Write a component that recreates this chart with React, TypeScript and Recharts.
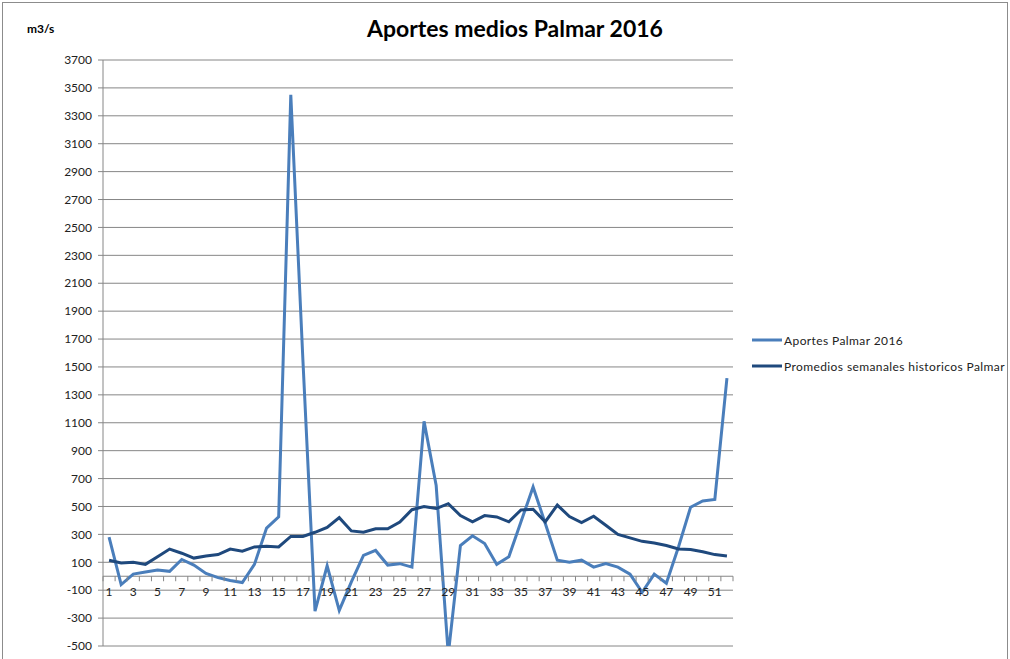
import { LineChart, Line, XAxis, YAxis, CartesianGrid, ReferenceLine, Legend } from "recharts"

// weekly inflows (m3/s)
const weeks = [
  1, 2, 3, 4, 5, 6, 7, 8, 9, 10, 11, 12, 13, 14, 15, 16, 17, 18, 19, 20, 21, 22, 23, 24, 25, 26,
  27, 28, 29, 30, 31, 32, 33, 34, 35, 36, 37, 38, 39, 40, 41, 42, 43, 44, 45, 46, 47, 48, 49, 50, 51, 52,
]
const aportes2016 = [
  280, -60, 15, 30, 45, 35, 120, 80, 20, -10, -30, -45, 85, 345, 425, 3450, 1550, -250, 75, -245, -40, 150,
  185, 80, 90, 65, 1110, 650, -560, 220, 290, 235, 85, 140, 390, 640, 380, 115, 100, 115, 65, 90, 65, 15,
  -115, 15, -50, 210, 495, 540, 550, 1420,
]
const promedios = [
  115, 95, 100, 85, 140, 195, 165, 130, 145, 155, 195, 180, 210, 215, 210, 285, 285, 315, 350, 420, 325, 315,
  340, 340, 388, 477, 500, 485, 520, 435, 390, 435, 425, 390, 475, 480, 390, 510, 428, 385, 430, 365, 300, 275,
  250, 238, 220, 195, 192, 175, 155, 145,
]
const yTicks = [-500, -300, -100, 100, 300, 500, 700, 900, 1100, 1300, 1500, 1700, 1900, 2100, 2300, 2500, 2700, 2900, 3100, 3300, 3500, 3700]

const data = weeks.map((w, i) => ({ week: w, aportes: aportes2016[i], promedios: promedios[i] }))

const FONT = "Lato, 'Open Sans', sans-serif"
const GRID = "#868686"
const LIGHT = "#4a7ebb"
const DARK = "#1f497d"

// x axis sits on the zero line, not at the bottom of the plot
const TOP = 60
const PLOT_H = 586
const Y0 = TOP + (PLOT_H * 3700) / 4200
const HALF_STEP = 6.06

function WeekTick(props: any) {
  const { x, payload, index } = props
  const week = payload.value as number
  return (
    <g>
      <line x1={x - HALF_STEP} x2={x - HALF_STEP} y1={Y0} y2={Y0 + 5} stroke={GRID} />
      {index === weeks.length - 1 && <line x1={x + HALF_STEP} x2={x + HALF_STEP} y1={Y0} y2={Y0 + 5} stroke={GRID} />}
      {week % 2 === 1 && (
        <text x={x} y={Y0 + 20} textAnchor="middle" fontSize={12} fill="#222" fontFamily={FONT}>
          {week}
        </text>
      )}
    </g>
  )
}

function LegendBox(props: any) {
  const items = props.payload || []
  return (
    <div style={{ fontFamily: FONT, fontSize: 12, color: "#222", letterSpacing: 0.4, whiteSpace: "nowrap" }}>
      {items.map((it: any) => (
        <div key={it.value} style={{ display: "flex", alignItems: "center", height: 26 }}>
          <svg width={32} height={6}>
            <line x1={0} x2={30} y1={3} y2={3} stroke={it.color} strokeWidth={3} />
          </svg>
          <span>{it.value}</span>
        </div>
      ))}
    </div>
  )
}

export default function App() {
  return (
    <div style={{ position: "absolute", left: 0, top: 0, width: 1010, height: 659, background: "#fff" }}>
      <div
        style={{
          position: "absolute",
          left: 2,
          top: 2,
          width: 1004,
          height: 657,
          borderTop: "1px solid #8c8c8c",
          borderLeft: "1px solid #8c8c8c",
          borderRight: "1px solid #8c8c8c",
        }}
      />
      <div
        style={{
          position: "absolute",
          left: 0,
          width: 1030,
          top: 14,
          textAlign: "center",
          fontFamily: FONT,
          fontWeight: 700,
          fontSize: 23,
          color: "#000",
        }}
      >
        Aportes medios Palmar 2016
      </div>
      <div style={{ position: "absolute", left: 27, top: 21, fontFamily: FONT, fontWeight: 700, fontSize: 12, color: "#000" }}>
        m3/s
      </div>
      <LineChart width={1010} height={659} data={data} margin={{ top: TOP, right: 277, left: 0, bottom: 0 }}>
        <CartesianGrid vertical={false} stroke={GRID} />
        <XAxis
          dataKey="week"
          interval={0}
          height={13}
          padding={{ left: HALF_STEP, right: HALF_STEP }}
          axisLine={false}
          tickLine={false}
          tickSize={0}
          tick={<WeekTick />}
        />
        <YAxis
          width={103}
          domain={[-500, 3700]}
          ticks={yTicks}
          interval={0}
          allowDataOverflow
          axisLine={{ stroke: GRID }}
          tickLine={{ stroke: GRID }}
          tickSize={5}
          tickMargin={6}
          tick={{ fill: "#222", fontSize: 12, fontFamily: FONT }}
        />
        <ReferenceLine y={0} stroke={GRID} />
        <Legend
          layout="horizontal"
          verticalAlign="middle"
          wrapperStyle={{ position: "absolute", left: 752, top: 327, width: 258 }}
          content={<LegendBox />}
        />
        <Line
          name="Aportes Palmar 2016"
          dataKey="aportes"
          stroke={LIGHT}
          strokeWidth={3}
          dot={false}
          isAnimationActive={false}
        />
        <Line
          name="Promedios semanales historicos Palmar"
          dataKey="promedios"
          stroke={DARK}
          strokeWidth={3}
          dot={false}
          isAnimationActive={false}
        />
      </LineChart>
    </div>
  )
}
